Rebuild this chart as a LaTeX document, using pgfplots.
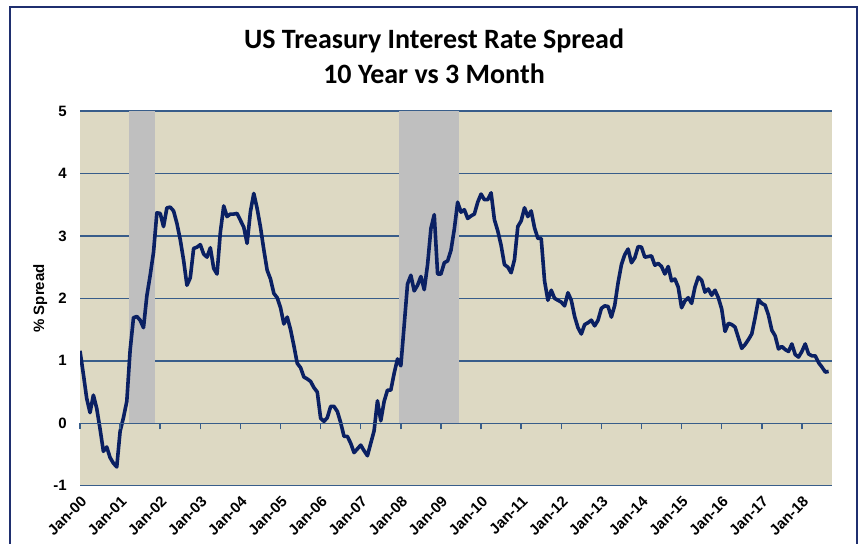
\documentclass[border=0pt]{standalone}
\usepackage{fontspec}
\setmainfont{Liberation Sans}
\newfontfamily\titlefont{Carlito}
\usepackage{pgfplots}
\pgfplotsset{compat=1.18}

\definecolor{plotbg}{HTML}{DDD9C3}
\definecolor{recgray}{HTML}{BFBFBF}
\definecolor{gridblue}{HTML}{385D8A}
\definecolor{linenavy}{HTML}{0A2063}
\definecolor{framenavy}{HTML}{1F2F6F}

\pgfplotsset{
  spreadframe/.style={
    anchor=south west, scale only axis, width=376.15pt,
    xmin=0, xmax=225.1,
    xtick={0,12,...,216},
  },
}

\begin{document}
\begin{tikzpicture}
\node[anchor=base, font=\titlefont\bfseries\fontsize{14}{16}\selectfont] at (217pt,247.5pt) {US Treasury Interest Rate Spread};
\node[anchor=base, font=\titlefont\bfseries\fontsize{14}{16}\selectfont] at (217pt,230pt) {10 Year vs 3 Month};

% main axis: background, grid, labels, data
\begin{axis}[
  spreadframe,
  at={(40pt,28.65pt)}, height=187.35pt,
  ymin=-1, ymax=5,
  axis x line=bottom, axis y line=left,
  x axis line style={-, draw=gridblue, line width=0.75pt},
  y axis line style={draw=none},
  xticklabels={Jan-00,Jan-01,Jan-02,Jan-03,Jan-04,Jan-05,Jan-06,Jan-07,Jan-08,Jan-09,
    Jan-10,Jan-11,Jan-12,Jan-13,Jan-14,Jan-15,Jan-16,Jan-17,Jan-18},
  xtick style={draw=none}, xtick align=inside,
  ytick={-1,0,...,5}, ytick style={draw=none}, ytick align=inside,
  ymajorgrids, grid style={draw=gridblue, line width=0.75pt},
  axis background/.style={fill=plotbg},
  /pgf/number format/assume math mode=true,
  tick label style={font=\bfseries\fontsize{7.5}{9}\selectfont},
  xticklabel style={rotate=45, anchor=north east, inner sep=0pt},
  xticklabel shift=4.5pt,
  yticklabel style={inner sep=0pt},
  yticklabel shift=6.5pt,
  ylabel={\% Spread},
  every axis y label/.style={at={(axis description cs:-0.053,0.5)}, rotate=90, anchor=center,
    font=\bfseries\fontsize{7.5}{9}\selectfont},
]
% recessions
\addplot[fill=recgray, draw=none] coordinates {(14.67,5) (22.44,5)} \closedcycle;
\addplot[fill=recgray, draw=none] coordinates {(95.56,5) (113.5,5)} \closedcycle;

\addplot[linenavy, line width=1.8pt, line join=round] coordinates {
(0,1.16)(1,0.79)(2,0.40)(3,0.17)(4,0.45)(5,0.24)(6,-0.09)(7,-0.45)(8,-0.38)(9,-0.55)(10,-0.64)(11,-0.70)
(12,-0.13)(13,0.09)(14,0.35)(15,1.17)(16,1.69)(17,1.71)(18,1.65)(19,1.53)(20,2.04)(21,2.37)(22,2.74)(23,3.37)
(24,3.36)(25,3.15)(26,3.45)(27,3.46)(28,3.40)(29,3.20)(30,2.94)(31,2.61)(32,2.21)(33,2.33)(34,2.80)(35,2.82)
(36,2.86)(37,2.71)(38,2.66)(39,2.81)(40,2.48)(41,2.39)(42,3.06)(43,3.48)(44,3.31)(45,3.35)(46,3.35)(47,3.36)
(48,3.25)(49,3.14)(50,2.88)(51,3.39)(52,3.68)(53,3.44)(54,3.14)(55,2.78)(56,2.45)(57,2.31)(58,2.08)(59,2.01)
(60,1.85)(61,1.59)(62,1.70)(63,1.50)(64,1.24)(65,0.96)(66,0.89)(67,0.74)(68,0.71)(69,0.67)(70,0.57)(71,0.50)
(72,0.08)(73,0.03)(74,0.09)(75,0.27)(76,0.27)(77,0.19)(78,0.01)(79,-0.21)(80,-0.21)(81,-0.32)(82,-0.47)(83,-0.41)
(84,-0.35)(85,-0.44)(86,-0.52)(87,-0.32)(88,-0.12)(89,0.36)(90,0.04)(91,0.35)(92,0.53)(93,0.53)(94,0.80)(95,1.03)
(96,0.92)(97,1.57)(98,2.23)(99,2.37)(100,2.12)(101,2.21)(102,2.35)(103,2.14)(104,2.54)(105,3.12)(106,3.34)(107,2.39)
(108,2.39)(109,2.57)(110,2.60)(111,2.77)(112,3.11)(113,3.54)(114,3.38)(115,3.42)(116,3.28)(117,3.32)(118,3.35)(119,3.54)
(120,3.67)(121,3.58)(122,3.58)(123,3.69)(124,3.26)(125,3.08)(126,2.85)(127,2.54)(128,2.50)(129,2.41)(130,2.62)(131,3.15)
(132,3.24)(133,3.45)(134,3.31)(135,3.40)(136,3.13)(137,2.96)(138,2.96)(139,2.28)(140,1.97)(141,2.13)(142,2.00)(143,1.97)
(144,1.94)(145,1.88)(146,2.09)(147,1.97)(148,1.71)(149,1.53)(150,1.43)(151,1.58)(152,1.61)(153,1.65)(154,1.56)(155,1.65)
(156,1.84)(157,1.88)(158,1.87)(159,1.70)(160,1.89)(161,2.25)(162,2.54)(163,2.70)(164,2.79)(165,2.57)(166,2.65)(167,2.83)
(168,2.82)(169,2.66)(170,2.67)(171,2.68)(172,2.53)(173,2.56)(174,2.51)(175,2.39)(176,2.51)(177,2.28)(178,2.31)(179,2.18)
(180,1.85)(181,1.96)(182,2.01)(183,1.92)(184,2.18)(185,2.34)(186,2.29)(187,2.10)(188,2.15)(189,2.05)(190,2.13)(191,2.01)
(192,1.83)(193,1.47)(194,1.60)(195,1.58)(196,1.54)(197,1.37)(198,1.20)(199,1.26)(200,1.34)(201,1.43)(202,1.69)(203,1.98)
(204,1.92)(205,1.89)(206,1.73)(207,1.49)(208,1.40)(209,1.19)(210,1.23)(211,1.18)(212,1.15)(213,1.27)(214,1.10)(215,1.06)
(216,1.15)(217,1.27)(218,1.11)(219,1.08)(220,1.08)(221,0.97)(222,0.90)(223,0.82)(224,0.83)
};
\end{axis}

% zero line with its tick marks: an axis spanning 0..5 only
\begin{axis}[
  spreadframe,
  at={(40pt,59.875pt)}, height=156.125pt,
  ymin=0, ymax=5,
  axis x line=bottom, axis y line=none,
  x axis line style={-, draw=gridblue, line width=0.75pt},
  xticklabels={}, ytick=\empty,
  xtick align=outside, major tick length=3pt,
  xtick style={draw=gridblue, line width=0.75pt},
]
\end{axis}

\draw[framenavy, line width=1pt] (5pt,268pt) rectangle (428.5pt,-10pt);
\pgfresetboundingbox
\useasboundingbox (0,0) rectangle (433.5pt,271.5pt);
\end{tikzpicture}
\end{document}
